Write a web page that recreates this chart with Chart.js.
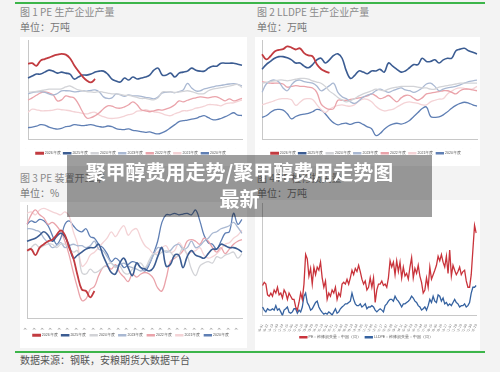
<!DOCTYPE html>
<html>
<head>
<meta charset="utf-8">
<script src="https://cdn.jsdelivr.net/npm/chart.js@4/dist/chart.umd.min.js"></script>
<style>
  body { margin: 0; background: #f3f3f3; font-family: "Noto Sans CJK SC", sans-serif; }
  #page { position: relative; width: 500px; height: 372px; overflow: hidden; }
  .line { position: absolute; height: 2px; background: #3cb54a; }
  .txt { position: absolute; font-size: 10px; color: #8a8a8a; white-space: nowrap; line-height: 12px; }
  canvas { position: absolute; background: #fff; }
  #banner { position: absolute; left: 67px; top: 155px; width: 365px; height: 62px; background: rgba(0,0,0,0.38);
            color: #fff; font-weight: bold; font-size: 20px; line-height: 27px; text-align: center; padding-top: 3px;
            box-sizing: border-box; padding-right: 20px; z-index: 5; }
</style>
</head>
<body>
<div id="page">
  <div class="line" style="left:15px; top:2px; width:470px;"></div>
  <div class="txt" style="left:20px; top:6px;">图 1 PE 生产企业产量</div>
  <div class="txt" style="left:20px; top:21px; color:#777;">单位：万吨</div>
  <div class="txt" style="left:257px; top:6px;">图 2 LLDPE 生产企业产量</div>
  <div class="txt" style="left:257px; top:21px; color:#777;">单位：万吨</div>
  <div class="txt" style="left:20px; top:172px;">图 3 PE 装置开工率</div>
  <div class="txt" style="left:20px; top:187px; color:#777;">单位：%</div>
  <div class="txt" style="left:257px; top:172px;">图 4 PE 检修损失量</div>
  <div class="txt" style="left:257px; top:187px; color:#777;">单位：万吨</div>
  <canvas id="c1" width="227" height="129" style="left:20px; top:37px;"></canvas>
  <canvas id="c2" width="225" height="129" style="left:255px; top:37px;"></canvas>
  <canvas id="c3" width="227" height="146" style="left:20px; top:202px;"></canvas>
  <canvas id="c4" width="225" height="150" style="left:255px; top:200px;"></canvas>
  <div class="line" style="left:15px; top:351px; width:470px;"></div>
  <div class="txt" style="left:20px; top:354px; color:#555;">数据来源：钢联，安粮期货大数据平台</div>
  <div id="banner">聚甲醇费用走势/聚甲醇费用走势图<br>最新</div>
</div>
<script>
// 年度序列
const years = ['2026年度', '2025年度', '2024年度', '2023年度', '2022年度', '2021年度', '2020年度'];
const yearColors = ['#c23b40', '#3b5c92', '#d2d3d7', '#a9b8d2', '#eaa3aa', '#f4d3d6', '#5f7fb4'];
const yearWidths = [1.8, 1.6, 1.3, 1.3, 1.3, 1.3, 1.3];

// 图1 PE 生产企业产量
const pe2026 = [68.3, 68.5, 67.2, 69.8, 70.6, 71.3, 72.2, 72.8, 73.2, 72.8, 71, 67.5, 64.5, 61.8, 59.8, 58.8, 60.5];
const pe2025 = [61, 62, 63, 63, 64, 65, 64.5, 63.5, 64, 63.5, 63, 60.5, 61.5, 62.5, 62.5, 63, 64, 64.5, 64.5, 63, 60.5, 59.5, 59, 61, 60, 61.5, 60.5, 61, 61.5, 62.5, 65, 66, 62.5, 62.5, 63.5, 61.5, 63.5, 64, 64.5, 66, 65, 64.5, 64.5, 66, 67, 67, 68.5, 68.5, 68.5, 68.5, 68, 67.5];
const pe2024 = [53.8, 54, 54.3, 54.6, 55, 55.4, 55.4, 55.4, 55.6, 56.5, 57, 56, 55, 54.6, 54.2, 54, 53.8, 54.2, 53.8, 53.4, 53, 53, 52.8, 52.3, 52.3, 51.8, 51.2, 50.7, 50.7, 50.2, 50, 51, 54, 54, 54, 53.8, 54, 54.3, 54.6, 54.2, 53.5, 53, 53.2, 54.6, 55.4, 55.8, 56.2, 56.5, 56.9, 57.5, 57.7, 56.2];
const pe2023 = [53, 53.6, 54, 54.2, 53.8, 53, 52.5, 53.2, 54.5, 54.6, 54.5, 54, 54.2, 54.6, 54.4, 54.8, 55, 54, 51.5, 50.7, 51, 53, 52.5, 51.8, 52.5, 52, 52, 51.8, 51.2, 51, 50.5, 51.5, 53.5, 53.8, 54, 53.6, 54.2, 55, 58.3, 56, 54.5, 54.5, 55.5, 56, 56.5, 57, 57.3, 57.7, 58, 58.2, 57.8, 57];
const pe2022 = [49.9, 51, 52.3, 53.5, 54, 53.5, 52.5, 49.5, 50, 52, 51.5, 51, 48, 44, 40.8, 41, 42, 43.5, 45.5, 47, 46.8, 46, 45.8, 46.5, 47.5, 49, 47.5, 45, 44.5, 44, 44.5, 45, 44.8, 45.5, 46.2, 47.5, 49.5, 49, 49.8, 50.5, 51, 51.5, 51.3, 51, 51.5, 51.5, 50.5, 49.5, 50.5, 49.5, 50, 50.8];
const pe2021 = [43.7, 45.3, 45, 44.5, 44.5, 44.6, 44.8, 45.3, 45, 44.8, 44.5, 44, 43.7, 43.2, 42.9, 43.5, 43.7, 42.3, 41.5, 40.8, 40.6, 40.8, 41.2, 41.8, 42.5, 43, 44.3, 44.5, 45, 44.5, 44, 43.7, 43, 42.3, 42, 43, 43.7, 44.5, 44.5, 45, 45.8, 46.2, 46.8, 47.6, 47.6, 47.4, 47, 48, 48.4, 48.5, 49.2, 49.9];
const pe2020 = [36, 36.2, 36.7, 37.5, 37.3, 36.2, 35.6, 35.2, 35.6, 36.5, 36.8, 37.5, 37.3, 37, 37.2, 37.5, 37, 36.5, 36.3, 36.8, 36.5, 35.5, 35.1, 35, 35.4, 34.6, 34.4, 34, 33.6, 33.8, 33.2, 32.8, 33.5, 34.5, 36, 37.5, 39, 39.5, 39.8, 40.3, 40.6, 41.5, 42, 41, 40, 40, 40.6, 41.5, 42.5, 43.5, 42.3, 42.1];

// 图2 LLDPE 生产企业产量
const ll2026 = [31.5, 30.2, 31, 32.2, 32.6, 32.8, 33.5, 33.2, 32.7, 33, 31.8, 31.2, 31, 29, 27.8, 27.2, 26.8];
const ll2025 = [27.7, 28.9, 29.7, 30.5, 30.9, 30.9, 30.6, 30.1, 29.3, 29.3, 28.5, 28.1, 28.9, 30.1, 30.5, 29.3, 30.1, 31.2, 31.6, 30.5, 27.3, 25.4, 26.2, 27.3, 27, 26.6, 27.3, 27.3, 27.7, 27, 29.3, 28.5, 27.7, 27, 27.3, 28.1, 28.9, 28.9, 30.5, 29.7, 29.7, 30.1, 29.3, 30.1, 30.5, 30.5, 32.4, 32.8, 33, 32.4, 32, 31.6];
const ll2024 = [24.2, 24.4, 24.6, 24.8, 25, 25, 24.8, 25, 25.2, 25.4, 25.4, 25.2, 24.8, 24.5, 24.2, 23.4, 22.2, 21.5, 20.6, 20, 19.5, 19.8, 20.3, 21, 21.5, 21.9, 22.3, 22.7, 22.5, 22.3, 22.7, 23, 23.2, 23.4, 23.4, 23.4, 23.4, 23.2, 23, 23, 22.7, 22.7, 23.2, 23.4, 23.6, 23.8, 24, 24.2, 24.2, 24.2, 24.2, 24.2];
const ll2023 = [21.9, 24, 24.8, 25, 24.5, 23, 22.3, 23.8, 24.8, 25, 24.6, 24.4, 24.2, 23.5, 22.3, 22.8, 23.6, 24.2, 21.9, 20.8, 20.3, 19.5, 19.1, 19.8, 20.7, 21.2, 21.5, 22.3, 22.7, 22.3, 21.9, 22.3, 22.7, 23, 22.5, 22.3, 21.9, 22.3, 23, 24, 24.2, 23.4, 22.3, 22.7, 23, 23.2, 23.4, 23.8, 24.2, 24.6, 24.8, 25];
const ll2022 = [24.6, 24.4, 24.2, 24.2, 24.2, 24, 23.2, 23.4, 23.6, 23.4, 23.4, 23.2, 23, 21.9, 19, 18, 17.6, 17.8, 19.9, 19.9, 19.9, 20.1, 20.3, 20.5, 20.7, 21, 21.5, 21, 20.3, 20.6, 21.1, 20.3, 19.5, 20.5, 21.1, 21.1, 20.4, 19.9, 20.5, 21.5, 21.7, 21.9, 22.1, 22.3, 22.3, 21.9, 21.5, 22.3, 22.7, 22.7, 22.5, 22.3];
const ll2021 = [18.75, 19.1, 19.4, 19.8, 20.2, 20.3, 20.3, 20, 18.6, 19.4, 20.2, 20.3, 20.1, 18.8, 17.6, 16.8, 17.6, 18.2, 18.6, 18.75, 18.5, 18.4, 18.8, 19.7, 20.2, 20.1, 19.5, 18.4, 17.6, 17.2, 17.4, 17.6, 18.2, 18.8, 19.3, 19.5, 19.3, 19.1, 18.75, 18.75, 19.5, 19.9, 20.2, 20.3, 21.5, 22.2, 22.8, 23, 22.9, 22.7, 22.8, 23.4];
const ll2020 = [15.6, 16, 16.8, 17.5, 17.6, 17.4, 16.5, 15.2, 15.8, 16.2, 16.4, 16.6, 17, 17.6, 17.4, 16.5, 15.2, 14.2, 13.7, 14, 14.1, 13.8, 14.2, 14.3, 13.8, 13.2, 12.7, 11, 11.5, 12.6, 13.4, 13.9, 14.1, 13.9, 14.2, 14.8, 15.8, 16.8, 17.8, 18.2, 15.8, 15.6, 15.7, 16.2, 17, 17.9, 18.6, 19.1, 19.4, 19.2, 18.75, 18.4];

// 图3 PE 装置开工率
const op2026 = [83, 83.4, 81.8, 83.8, 84.7, 85.5, 85.9, 87.1, 88.4, 87.1, 83.8, 81, 76.4, 72.7, 72.3, 70.6, 72.3];
const op2025 = [85.5, 85.9, 86.3, 87.1, 88, 87.1, 85.5, 86.7, 87.6, 86.7, 84.3, 81, 81.8, 82.6, 83.4, 83.8, 83.8, 84.7, 81.8, 79.3, 77.2, 76.8, 79.7, 81, 78.5, 76.4, 79.7, 78.5, 78.1, 77.6, 78.5, 81.4, 83.8, 78.9, 79.3, 81.8, 81.8, 78.5, 81.4, 83, 81.8, 81.4, 81, 82.2, 83.4, 83.4, 84.7, 84.3, 83.8, 83.8, 83.4, 82.6];
const op2024 = [82.6, 83.8, 84.7, 83.8, 84.3, 84.7, 84.7, 83.8, 84.7, 84.7, 83.8, 82.6, 83, 77.2, 76.8, 78.1, 77.2, 77.6, 78.5, 79.3, 79.7, 78.5, 78.9, 77.2, 76.8, 78.1, 79.3, 79.7, 78.5, 80.5, 82.2, 81.8, 82.6, 83, 82.6, 81.4, 81.8, 83.8, 81.8, 78.1, 76.4, 78.9, 79.7, 80.1, 79.7, 81.4, 81, 81.8, 82.2, 82.6, 81, 82.2];
const op2023 = [88.8, 88.8, 88.4, 88, 86.3, 85.1, 83.8, 84.3, 85.1, 83.8, 84.3, 84.7, 84.3, 84.3, 83.8, 84.3, 85.5, 83.4, 83, 81.4, 79.7, 78.9, 79.3, 79.7, 78.9, 78.5, 78.1, 77.6, 78.1, 79.7, 81.8, 83.8, 83.4, 82.6, 83, 84.3, 84.7, 83.4, 83.8, 85.5, 83.8, 84.3, 85.5, 86.3, 87.6, 88, 88.8, 89.2, 89.6, 90.5, 89.2, 87.6];
const op2022 = [90, 92.5, 93.8, 92.5, 91.7, 90, 90.5, 89.6, 88, 85.5, 81.8, 77.2, 73.1, 69.8, 70.2, 72.7, 73.5, 76.4, 78.5, 78.9, 78.1, 79.3, 77.2, 76, 74.8, 76.8, 76, 76.8, 77.2, 76.8, 75.6, 73.1, 72.3, 75.6, 80.1, 81, 81.8, 83, 85.5, 85.9, 85.5, 84.7, 86.3, 85.5, 83.8, 82.6, 83.8, 82.2, 83.4, 84.7, 85.5, 85.9];
const op2021 = [92.9, 93.3, 92.5, 93.8, 94.2, 93.8, 93.3, 92.9, 92.5, 93.3, 92.1, 88, 84.7, 78.9, 79.7, 81.8, 82.6, 83.8, 85.1, 86.3, 88, 86.7, 88.4, 89.6, 87.1, 88.4, 88.8, 86.3, 84.3, 83.4, 82.2, 82.6, 83.8, 84.3, 82.6, 83, 85.1, 83.8, 82.2, 82.6, 83, 83.8, 81.8, 81, 81.4, 82.2, 83.4, 84.7, 85.1, 86.3, 87.1, 88.4];
const op2020 = [90, 90.9, 90.5, 91.3, 90.9, 89.6, 87.1, 84.7, 86.3, 90, 90.9, 89.6, 88.4, 88, 88.8, 86.7, 86.3, 84.7, 83.8, 82.2, 80.1, 81, 80.1, 78.5, 79.3, 80.1, 79.7, 78.5, 77.6, 79.3, 82.2, 85.5, 90.5, 92.5, 92.5, 92.9, 92.5, 92.7, 92.9, 92.5, 93.8, 90.9, 87.1, 85.1, 84.7, 83.4, 85.5, 87.6, 88, 92.9, 90, 91.3];

// 图4 检修损失量（周）
const lossNames = ['PE：检修损失量：中国（周）', 'LLDPE：检修损失量：中国（周）'];
const lossColors = ['#c9333b', '#3562a0'];
const peLoss = [6.7, 7.4, 7.0, 4.6, 4.3, 5.0, 4.3, 5.7, 5.0, 6.3, 4.6, 5.0, 3.9, 5.7, 5.0, 3.6, 5.0, 4.3, 3.6, 3.6, 1.9, 1.2, 2.9, 5.0, 3.6, 7.0, 13.6, 12.6, 8.8, 10.5, 7.0, 10.8, 9.1, 10.8, 10.1, 11.9, 8.4, 6.3, 7.7, 3.6, 5.0, 4.3, 5.7, 5.0, 6.3, 3.6, 5.0, 4.3, 7.0, 7.4, 7.0, 8.1, 7.0, 8.4, 10.1, 9.1, 10.5, 9.8, 11.2, 9.8, 8.1, 7.0, 7.7, 5.7, 6.3, 8.4, 6.3, 8.4, 2.9, 5.7, 7.0, 7.0, 7.7, 6.7, 7.0, 6.3, 8.4, 12.2, 10.8, 11.9, 9.1, 12.2, 9.8, 11.9, 8.4, 10.8, 8.8, 9.4, 8.1, 10.8, 12.9, 8.4, 10.5, 9.4, 11.2, 8.8, 7.4, 5.0, 5.7, 8.4, 6.3, 10.8, 8.1, 9.1, 10.1, 11.2, 13.2, 12.2, 13.6, 11.9, 10.8, 13.2, 9.4, 14.6, 8.8, 11.2, 10.1, 9.1, 9.8, 10.8, 9.1, 9.8, 10.1, 7.7, 6.3, 6.3, 9.1, 14.6, 20.1, 18.4];
const lldpeLoss = [1.9, 1.2, 0.8, 1.5, 1.2, 1.2, 1.5, 1.2, 2.2, 1.2, 1.5, 0.8, 0, 1.2, 1.5, 1.9, 0.7, 0.5, 0.8, 1.5, 1.5, 0.5, 1.2, 0.8, 1.9, 4.3, 5.0, 2.9, 2.2, 1.2, 1.5, 2.2, 2.9, 3.2, 1.9, 1.2, 0.7, 0.3, 0.5, 0.3, 0.8, 0.5, 0.1, 0.8, 1.5, 0.5, 0.8, 1.5, 1.9, 2.2, 2.6, 2.6, 2.9, 3.2, 5.0, 3.6, 2.6, 2.2, 2.2, 2.6, 1.9, 2.2, 2.6, 1.5, 1.9, 1.9, 2.2, 1.9, 1.2, 0.8, 1.2, 1.5, 1.2, 0.8, 2.2, 2.6, 3.2, 3.6, 3.6, 3.2, 4.3, 3.6, 3.2, 2.6, 1.9, 2.6, 2.6, 2.9, 3.2, 3.6, 4.3, 3.9, 3.2, 2.9, 2.2, 1.9, 1.2, 1.5, 1.9, 1.2, 2.2, 3.6, 2.9, 4.3, 3.2, 2.9, 4.6, 4.3, 3.2, 3.9, 2.6, 2.9, 2.2, 2.6, 2.2, 2.9, 3.6, 2.9, 2.6, 1.9, 2.2, 2.2, 2.6, 1.9, 2.2, 2.9, 5.0, 6.3, 6.3, 6.7];

// 横轴标签
const weekLabels = [];
for (let i = 1; i <= 52; i++) weekLabels.push('第' + i + '周');
const dateLabels = [];
const d0 = new Date(2023, 8, 1);
for (let i = 0; i < peLoss.length; i++) {
    const d = new Date(d0.getTime() + i * 7 * 86400000);
    dateLabels.push(d.getFullYear() + '-' + String(d.getMonth() + 1).padStart(2, '0') + '-' + String(d.getDate()).padStart(2, '0'));
}

function yearSets(arrs) {
    return arrs.map((arr, i) => ({
        label: years[i],
        data: arr,
        borderColor: yearColors[i],
        backgroundColor: yearColors[i],
        borderWidth: yearWidths[i],
        pointRadius: 0,
        tension: 0.4,
        order: i === 0 ? 0 : (i === 1 ? 1 : 2)
    }));
}

function makeChart(id, labels, datasets, yMin, yMax, step, opt) {
    const ctx = document.getElementById(id).getContext('2d');
    return new Chart(ctx, {
        type: 'line',
        data: { labels: labels, datasets: datasets },
        options: {
            responsive: false,
            animation: false,
            layout: { padding: { top: 3, right: opt.right, bottom: 1 } },
            plugins: {
                tooltip: { enabled: false },
                legend: {
                    position: 'bottom',
                    labels: { font: { size: 3.5 }, color: '#555', boxWidth: 7, boxHeight: 1, padding: opt.legPad }
                }
            },
            scales: {
                x: {
                    grid: { display: false },
                    border: { color: '#c8c8c8' },
                    ticks: { font: { size: 3.5 }, color: '#777', maxRotation: opt.rot, minRotation: opt.rot,
                             autoSkip: true, autoSkipPadding: 0, padding: 0 },
                    afterFit: s => { s.height = opt.xh; }
                },
                y: {
                    min: yMin, max: yMax,
                    grid: { display: false },
                    border: { color: '#c8c8c8' },
                    ticks: { stepSize: step, font: { size: 4 }, color: '#777', padding: 1 },
                    afterFit: s => { s.width = opt.yw; }
                }
            }
        }
    });
}

window.onload = () => {
    makeChart('c1', weekLabels, yearSets([pe2026, pe2025, pe2024, pe2023, pe2022, pe2021, pe2020]), 30, 80, 10,
        { right: 5, xh: 9, yw: 8, rot: 50, legPad: 3 });
    makeChart('c2', weekLabels, yearSets([ll2026, ll2025, ll2024, ll2023, ll2022, ll2021, ll2020]), 10, 35, 5,
        { right: 3, xh: 9, yw: 7, rot: 50, legPad: 3 });
    makeChart('c3', weekLabels, yearSets([op2026, op2025, op2024, op2023, op2022, op2021, op2020]), 65, 95, 5,
        { right: 5, xh: 11, yw: 7, rot: 50, legPad: 4 });
    makeChart('c4', dateLabels, [
        { label: lossNames[0], data: peLoss, borderColor: lossColors[0], backgroundColor: lossColors[0], borderWidth: 1.3, pointRadius: 0, tension: 0 },
        { label: lossNames[1], data: lldpeLoss, borderColor: lossColors[1], backgroundColor: lossColors[1], borderWidth: 1.3, pointRadius: 0, tension: 0 }
    ], 0, 25, 5, { right: 2, xh: 16, yw: 7, rot: 65, legPad: 4 });
};
</script>
</body>
</html>
